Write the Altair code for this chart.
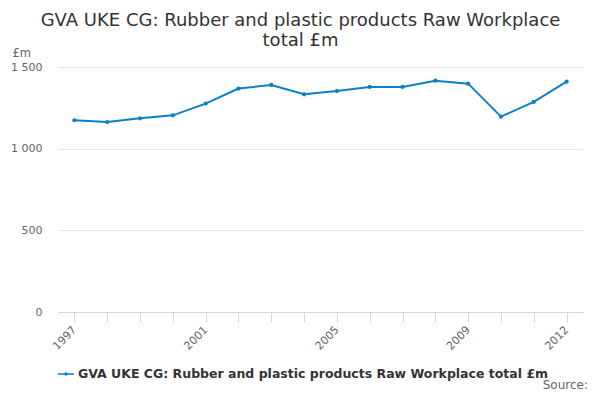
import pandas as pd
import altair as alt

years = [str(y) for y in range(1997, 2013)]
values = [1174, 1163, 1186, 1204, 1276, 1368, 1390, 1333,
          1353, 1378, 1378, 1416, 1398, 1196, 1286, 1410]
series = "GVA UKE CG: Rubber and plastic products Raw Workplace total £m"
shown_labels = ["1997", "2001", "2005", "2009", "2012"]

df = pd.DataFrame({"year": years, "value": values, "series": series})

FONT = "DejaVu Sans"
BLUE = "#0b7fc7"

legend_symbol = (
    "M-1,-0.08H1V0.08H-1Z "
    "M0.22,0A0.22,0.22 0 1,1 -0.22,0A0.22,0.22 0 1,1 0.22,0Z"
)

line = (
    alt.Chart(df)
    .mark_line(strokeWidth=2, point=alt.OverlayMarkDef(size=18, filled=True))
    .encode(
        x=alt.X(
            "year:O",
            title=None,
            scale=alt.Scale(type="point", padding=0.5),
            axis=alt.Axis(
                labelAngle=-45,
                labelAlign="right",
                labelBaseline="middle",
                labelExpr="indexof(%s, datum.label) >= 0 ? datum.label : ''"
                % str(shown_labels),
                labelColor="#666666",
                labelFontSize=11,
                labelPadding=6,
                labelOverlap=False,
                domainColor="#ccd6eb",
                tickColor="#ccd6eb",
                tickSize=10,
                grid=False,
            ),
        ),
        y=alt.Y(
            "value:Q",
            scale=alt.Scale(domain=[0, 1500], nice=False),
            axis=alt.Axis(
                values=[0, 500, 1000, 1500],
                labelExpr="replace(format(datum.value, ','), ',', ' ')",
                labelColor="#666666",
                labelFontSize=11,
                labelPadding=16,
                gridColor="#e6e6e6",
                domain=False,
                ticks=False,
                title="£m",
                titleAngle=0,
                titleAlign="left",
                titleBaseline="middle",
                titleX=-46,
                titleY=-14,
                titleFontSize=11.5,
                titleFontWeight="normal",
                titleColor="#666666",
            ),
        ),
        color=alt.Color(
            "series:N",
            scale=alt.Scale(range=[BLUE]),
            legend=alt.Legend(
                title=None,
                orient="none",
                legendX=0,
                legendY=299,
                symbolType=legend_symbol,
                symbolSize=256,
                symbolStrokeWidth=0,
                labelFontSize=12.5,
                labelFontWeight="bold",
                labelColor="#333333",
                labelLimit=600,
            ),
        ),
    )
)

source = (
    alt.Chart(pd.DataFrame({"t": ["Source:"]}))
    .mark_text(align="right", baseline="middle", fontSize=12, color="#666666", font=FONT)
    .encode(text="t:N", x=alt.value(530), y=alt.value(318))
)

chart = (
    alt.layer(line, source)
    .properties(
        width=525,
        height=245,
        autosize=alt.AutoSizeParams(type="none"),
        padding={"left": 50, "top": 59, "right": 9, "bottom": 80},
        title=alt.TitleParams(
            text=["GVA UKE CG: Rubber and plastic products Raw Workplace", "total £m"],
            anchor="middle",
            dx=-20,
            offset=-3,
            fontSize=18,
            fontWeight="normal",
            color="#333333",
            font=FONT,
            lineHeight=20,
        ),
    )
    .configure(font=FONT)
    .configure_view(stroke=None)
)

chart.save("out.html", embed_options={"renderer": "svg", "actions": False})
